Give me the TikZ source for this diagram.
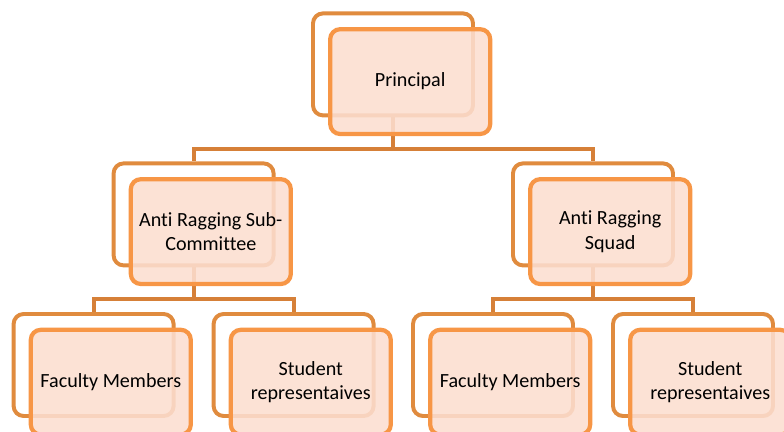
\documentclass[tikz,border=0pt]{standalone}
\usepackage{fontspec}
\setmainfont{Carlito}[Ligatures=NoCommon]
\definecolor{backline}{RGB}{224,139,62}
\definecolor{frontline}{RGB}{247,150,70}
\definecolor{frontfill}{RGB}{252,222,208}
\definecolor{linkcol}{RGB}{214,128,56}
\begin{document}
\begin{tikzpicture}[
        backbox/.style={rectangle, rounded corners=0.25cm, draw=backline, line width=2.8pt, fill=white, minimum width=4.0cm, minimum height=2.55cm, inner sep=0pt},
        frontbox/.style={rectangle, rounded corners=0.25cm, draw=frontline, line width=3pt, fill=frontfill, fill opacity=0.88, text opacity=1, minimum width=4.0cm, minimum height=2.62cm, inner sep=0pt, align=center, font=\fontsize{14.3}{17.5}\selectfont},
        link/.style={draw=linkcol, line width=2.8pt}
    ]
        \useasboundingbox (0,0) rectangle (19.6,-10.8);

        % Back frames
        \node[backbox] (princb) at (9.825,-1.61) {};
        \node[backbox] (subcomb) at (4.84,-5.36) {};
        \node[backbox] (squadb) at (14.825,-5.36) {};
        \node[backbox] (facab) at (2.34,-9.125) {};
        \node[backbox] (studab) at (7.34,-9.125) {};
        \node[backbox] (facbb) at (12.325,-9.125) {};
        \node[backbox] (studbb) at (17.325,-9.125) {};

        % Connectors
        \draw[link] (princb.south) -- ++(0,-0.78) -| (subcomb.north);
        \draw[link] (princb.south) -- ++(0,-0.78) -| (squadb.north);
        \draw[link] (subcomb.south) -- ++(0,-0.78) -| (facab.north);
        \draw[link] (subcomb.south) -- ++(0,-0.78) -| (studab.north);
        \draw[link] (squadb.south) -- ++(0,-0.78) -| (facbb.north);
        \draw[link] (squadb.south) -- ++(0,-0.78) -| (studbb.north);

        % Front boxes
        \node[frontbox] (princ) at ([xshift=0.43cm, yshift=-0.43cm]princb.center) {Principal};
        \node[frontbox] (subcom) at ([xshift=0.43cm, yshift=-0.43cm]subcomb.center) {Anti Ragging Sub-\\Committee};
        \node[frontbox] (squad) at ([xshift=0.43cm, yshift=-0.43cm]squadb.center) {Anti Ragging\\Squad};
        \node[frontbox] (faca) at ([xshift=0.43cm, yshift=-0.43cm]facab.center) {Faculty Members};
        \node[frontbox] (studa) at ([xshift=0.43cm, yshift=-0.43cm]studab.center) {Student\\representaives};
        \node[frontbox] (facb) at ([xshift=0.43cm, yshift=-0.43cm]facbb.center) {Faculty Members};
        \node[frontbox] (studb) at ([xshift=0.43cm, yshift=-0.43cm]studbb.center) {Student\\representaives};
    \end{tikzpicture}
\end{document}
